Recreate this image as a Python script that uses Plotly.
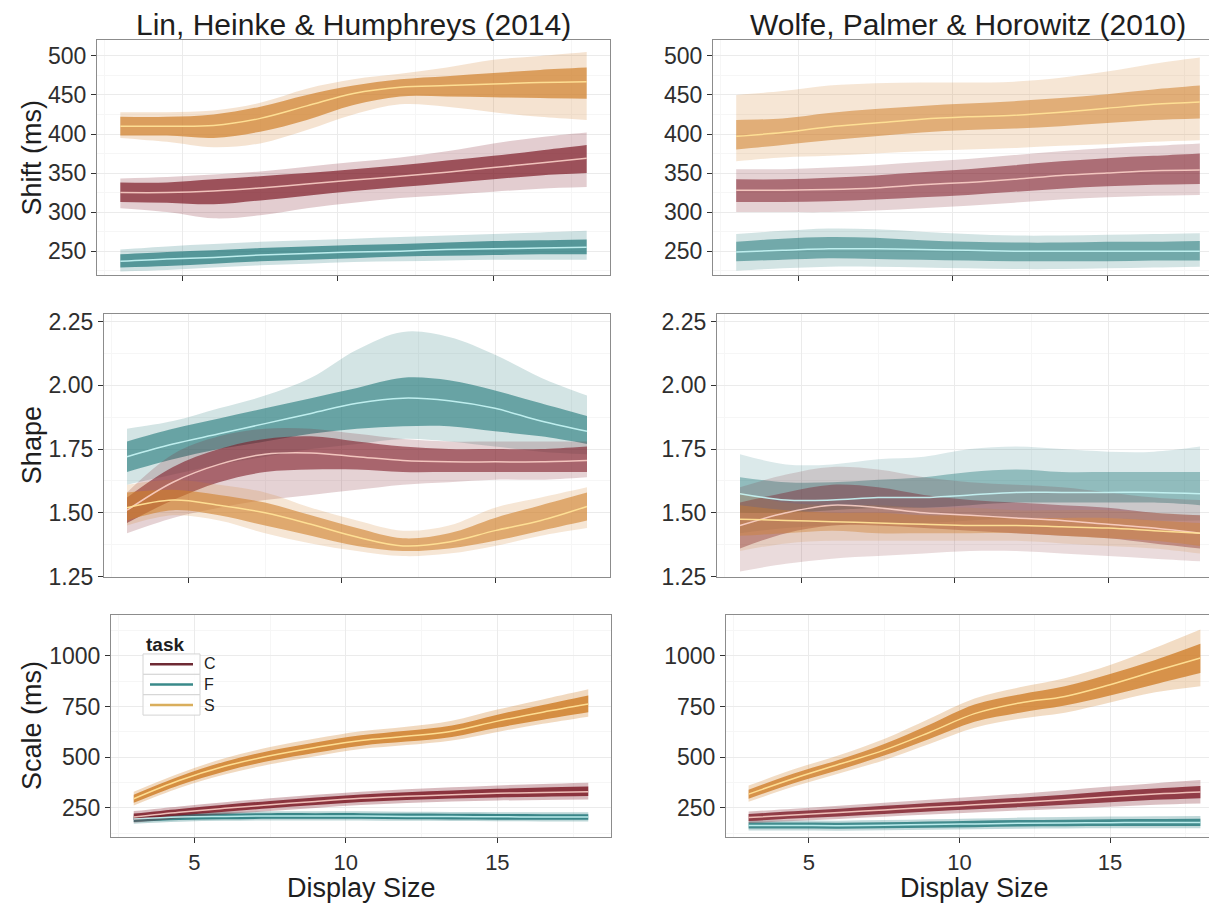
import plotly.graph_objects as go

# Display sizes at which the posterior curves are summarised
display_size = [3, 4.5, 6, 7.5, 9, 10.5, 12, 13.5, 15, 16.5, 18]
tasks = ["C", "F", "S"]

# ---- Shift (ms), Lin, Heinke & Humphreys (2014) ----
lin_shift_C = dict(
    mean=[325, 325, 327, 331, 336, 341, 346, 351, 357, 363, 369],
    core_lo=[313, 312, 310, 315, 321, 327, 332, 337, 342, 347, 350],
    core_hi=[338, 338, 342, 346, 350, 355, 360, 366, 372, 379, 386],
    env_lo=[305, 300, 292, 296, 305, 312, 318, 322, 326, 330, 332],
    env_hi=[343, 345, 348, 352, 358, 364, 370, 378, 388, 396, 402],
)
lin_shift_F = dict(
    mean=[237, 240, 242, 245, 247, 249, 250, 252, 253, 254, 255],
    core_lo=[229, 231, 234, 237, 239, 241, 243, 244, 245, 246, 246],
    core_hi=[246, 249, 251, 254, 256, 258, 259, 261, 263, 264, 265],
    env_lo=[224, 226, 229, 232, 234, 236, 237, 238, 239, 239, 239],
    env_hi=[252, 256, 259, 262, 264, 266, 268, 270, 272, 274, 276],
)
lin_shift_S = dict(
    mean=[410, 410, 411, 420, 436, 452, 460, 462, 464, 466, 467],
    core_lo=[398, 398, 395, 403, 418, 437, 448, 448, 447, 446, 445],
    core_hi=[422, 422, 425, 435, 450, 462, 470, 474, 478, 482, 485],
    env_lo=[395, 390, 383, 388, 405, 425, 438, 435, 428, 422, 418],
    env_hi=[428, 428, 430, 440, 458, 470, 477, 485, 495, 500, 505],
)

# ---- Shift (ms), Wolfe, Palmer & Horowitz (2010) ----
wolfe_shift_C = dict(
    mean=[328, 328, 329, 331, 335, 338, 342, 347, 350, 353, 354],
    core_lo=[313, 313, 314, 316, 319, 322, 326, 330, 333, 335, 336],
    core_hi=[342, 342, 344, 347, 351, 355, 360, 365, 369, 372, 375],
    env_lo=[300, 300, 300, 302, 305, 308, 312, 316, 319, 321, 322],
    env_hi=[355, 355, 357, 360, 364, 368, 373, 378, 382, 385, 388],
)
wolfe_shift_F = dict(
    mean=[249, 251, 253, 253, 252, 251, 250, 250, 250, 250, 250],
    core_lo=[237, 239, 241, 240, 239, 238, 237, 237, 237, 238, 238],
    core_hi=[262, 266, 268, 267, 264, 262, 261, 261, 262, 262, 263],
    env_lo=[225, 228, 230, 230, 229, 228, 227, 227, 228, 229, 230],
    env_hi=[272, 276, 279, 278, 275, 272, 270, 270, 271, 272, 273],
)
wolfe_shift_S = dict(
    mean=[397, 402, 409, 414, 419, 422, 424, 428, 433, 438, 441],
    core_lo=[380, 386, 392, 397, 402, 405, 407, 410, 414, 418, 420],
    core_hi=[418, 420, 427, 432, 436, 439, 442, 446, 451, 457, 462],
    env_lo=[365, 370, 372, 375, 378, 380, 382, 385, 387, 390, 392],
    env_hi=[450, 455, 462, 465, 466, 466, 467, 472, 480, 490, 498],
)

# ---- Shape, Lin, Heinke & Humphreys (2014) ----
lin_shape_C = dict(
    mean=[1.51, 1.62, 1.69, 1.73, 1.735, 1.72, 1.705, 1.70, 1.70, 1.70, 1.705],
    core_lo=[1.46, 1.55, 1.62, 1.66, 1.67, 1.67, 1.66, 1.66, 1.66, 1.66, 1.66],
    core_hi=[1.56, 1.68, 1.75, 1.79, 1.80, 1.78, 1.76, 1.75, 1.75, 1.75, 1.76],
    env_lo=[1.42, 1.48, 1.52, 1.55, 1.57, 1.59, 1.61, 1.62, 1.63, 1.63, 1.64],
    env_hi=[1.58, 1.73, 1.80, 1.83, 1.83, 1.81, 1.79, 1.78, 1.78, 1.78, 1.78],
)
lin_shape_F = dict(
    mean=[1.72, 1.77, 1.81, 1.85, 1.89, 1.93, 1.95, 1.94, 1.91, 1.86, 1.82],
    core_lo=[1.66, 1.71, 1.75, 1.78, 1.81, 1.83, 1.84, 1.84, 1.82, 1.80, 1.77],
    core_hi=[1.78, 1.83, 1.87, 1.91, 1.95, 1.99, 2.03, 2.02, 1.98, 1.93, 1.88],
    env_lo=[1.61, 1.65, 1.69, 1.72, 1.75, 1.77, 1.79, 1.78, 1.76, 1.74, 1.73],
    env_hi=[1.83, 1.86, 1.91, 1.96, 2.03, 2.14, 2.21, 2.19, 2.12, 2.03, 1.96],
)
lin_shape_S = dict(
    mean=[1.52, 1.55, 1.53, 1.50, 1.455, 1.405, 1.37, 1.385, 1.43, 1.47, 1.525],
    core_lo=[1.47, 1.51, 1.49, 1.45, 1.41, 1.37, 1.35, 1.36, 1.39, 1.43, 1.47],
    core_hi=[1.58, 1.59, 1.57, 1.54, 1.49, 1.44, 1.40, 1.42, 1.48, 1.53, 1.58],
    env_lo=[1.45, 1.49, 1.47, 1.42, 1.38, 1.35, 1.33, 1.34, 1.37, 1.41, 1.44],
    env_hi=[1.61, 1.63, 1.61, 1.58, 1.52, 1.47, 1.43, 1.45, 1.52, 1.56, 1.60],
)

# ---- Shape, Wolfe, Palmer & Horowitz (2010) ----
wolfe_shape_C = dict(
    mean=[1.45, 1.50, 1.53, 1.52, 1.50, 1.49, 1.48, 1.47, 1.455, 1.44, 1.42],
    core_lo=[1.36, 1.42, 1.45, 1.45, 1.44, 1.43, 1.42, 1.41, 1.40, 1.38, 1.36],
    core_hi=[1.54, 1.58, 1.61, 1.60, 1.57, 1.55, 1.54, 1.53, 1.52, 1.50, 1.49],
    env_lo=[1.27, 1.30, 1.32, 1.33, 1.34, 1.35, 1.35, 1.34, 1.33, 1.32, 1.31],
    env_hi=[1.60, 1.65, 1.68, 1.67, 1.64, 1.62, 1.61, 1.60, 1.58, 1.56, 1.55],
)
wolfe_shape_F = dict(
    mean=[1.575, 1.55, 1.55, 1.56, 1.56, 1.57, 1.58, 1.58, 1.58, 1.58, 1.575],
    core_lo=[1.50, 1.50, 1.51, 1.52, 1.52, 1.53, 1.54, 1.54, 1.54, 1.54, 1.53],
    core_hi=[1.64, 1.62, 1.62, 1.63, 1.64, 1.66, 1.67, 1.66, 1.66, 1.66, 1.66],
    env_lo=[1.42, 1.44, 1.45, 1.46, 1.46, 1.47, 1.48, 1.48, 1.48, 1.47, 1.47],
    env_hi=[1.73, 1.69, 1.69, 1.71, 1.72, 1.75, 1.76, 1.75, 1.74, 1.74, 1.76],
)
wolfe_shape_S = dict(
    mean=[1.475, 1.47, 1.465, 1.46, 1.455, 1.45, 1.45, 1.445, 1.44, 1.43, 1.42],
    core_lo=[1.41, 1.42, 1.43, 1.42, 1.42, 1.42, 1.42, 1.41, 1.40, 1.39, 1.37],
    core_hi=[1.53, 1.51, 1.50, 1.50, 1.49, 1.49, 1.48, 1.48, 1.48, 1.47, 1.46],
    env_lo=[1.35, 1.38, 1.39, 1.39, 1.39, 1.39, 1.39, 1.38, 1.37, 1.36, 1.34],
    env_hi=[1.58, 1.54, 1.53, 1.53, 1.52, 1.52, 1.51, 1.51, 1.51, 1.50, 1.49],
)

# ---- Scale (ms), Lin, Heinke & Humphreys (2014) ----
lin_scale_C = dict(
    mean=[205, 228, 248, 265, 282, 297, 307, 315, 322, 326, 330],
    core_lo=[190, 212, 231, 248, 264, 279, 289, 296, 301, 305, 308],
    core_hi=[222, 245, 266, 284, 301, 316, 327, 336, 344, 350, 355],
    env_lo=[178, 198, 218, 234, 250, 264, 274, 281, 286, 289, 291],
    env_hi=[234, 257, 278, 297, 315, 330, 342, 352, 361, 368, 374],
)
lin_scale_F = dict(
    mean=[195, 205, 208, 210, 210, 210, 208, 207, 206, 205, 205],
    core_lo=[180, 190, 194, 196, 196, 196, 194, 193, 192, 191, 191],
    core_hi=[208, 218, 222, 224, 224, 224, 222, 221, 220, 219, 219],
    env_lo=[172, 182, 186, 188, 188, 188, 186, 185, 184, 183, 183],
    env_hi=[216, 227, 231, 233, 233, 233, 231, 230, 229, 228, 228],
)
lin_scale_S = dict(
    mean=[295, 385, 455, 507, 548, 583, 603, 628, 678, 722, 762],
    core_lo=[275, 362, 430, 482, 522, 557, 577, 600, 645, 685, 722],
    core_hi=[315, 405, 478, 532, 573, 608, 630, 657, 710, 758, 805],
    env_lo=[262, 348, 415, 465, 505, 540, 560, 583, 625, 665, 700],
    env_hi=[330, 420, 495, 550, 592, 628, 650, 680, 735, 785, 835],
)

# ---- Scale (ms), Wolfe, Palmer & Horowitz (2010) ----
wolfe_scale_C = dict(
    mean=[202, 215, 227, 240, 253, 265, 277, 290, 305, 318, 328],
    core_lo=[185, 197, 208, 220, 232, 243, 254, 265, 278, 290, 298],
    core_hi=[220, 233, 246, 260, 274, 287, 300, 315, 332, 346, 358],
    env_lo=[175, 185, 195, 206, 217, 227, 237, 246, 256, 266, 272],
    env_hi=[232, 246, 260, 275, 290, 305, 320, 337, 355, 372, 388],
)
wolfe_scale_F = dict(
    mean=[163, 163, 162, 164, 168, 171, 174, 176, 177, 178, 178],
    core_lo=[148, 148, 147, 149, 152, 155, 158, 159, 160, 160, 160],
    core_hi=[178, 178, 177, 179, 183, 187, 190, 192, 194, 195, 196],
    env_lo=[138, 138, 137, 139, 142, 145, 147, 148, 149, 149, 149],
    env_hi=[188, 188, 187, 190, 194, 198, 202, 205, 207, 209, 210],
)
wolfe_scale_S = dict(
    mean=[318, 395, 465, 535, 622, 715, 768, 800, 858, 925, 990],
    core_lo=[295, 372, 437, 508, 590, 675, 720, 755, 805, 860, 915],
    core_hi=[340, 420, 487, 565, 660, 760, 810, 850, 910, 980, 1060],
    env_lo=[280, 355, 420, 485, 565, 645, 690, 720, 770, 820, 850],
    env_hi=[360, 440, 510, 590, 690, 790, 845, 890, 955, 1040, 1130],
)

study_titles = ["Lin, Heinke & Humphreys (2014)", "Wolfe, Palmer & Horowitz (2010)"]
row_titles = ["Shift (ms)", "Shape", "Scale (ms)"]
x_title = "Display Size"
legend_title = "task"

panels = [
    [dict(C=lin_shift_C, F=lin_shift_F, S=lin_shift_S),
     dict(C=wolfe_shift_C, F=wolfe_shift_F, S=wolfe_shift_S)],
    [dict(C=lin_shape_C, F=lin_shape_F, S=lin_shape_S),
     dict(C=wolfe_shape_C, F=wolfe_shape_F, S=wolfe_shape_S)],
    [dict(C=lin_scale_C, F=lin_scale_F, S=lin_scale_S),
     dict(C=wolfe_scale_C, F=wolfe_scale_F, S=wolfe_scale_S)],
]

# ---- styling ----
W, H = 1209, 913
FONT = "Liberation Sans, Arial, Helvetica, sans-serif"
TEXT = "#1e1e1e"
TICK_TEXT = "#2e2e2e"
TASK_RGB = {"C": (126, 28, 40), "F": (34, 120, 122), "S": (208, 128, 44)}
MEAN_COLOR = {"C": "rgba(255,214,205,0.85)", "F": "rgba(200,246,246,0.9)",
              "S": "rgba(255,226,150,0.95)"}
LEGEND_KEY = {"C": "#6e2a34", "F": "#3a8a8a", "S": "#d9ae5c"}
# (envelope alpha, core alpha) per panel: denser spaghetti reads darker
ALPHAS = [[(0.22, 0.70), (0.20, 0.55)],
          [(0.20, 0.60), (0.16, 0.40)],
          [(0.30, 0.85), (0.28, 0.80)]]
DRAW_ORDER = ["F", "C", "S"]

# panel boxes in pixels: (left, right, top, bottom)
boxes = [
    [(97, 610, 36, 275), (713, 1209, 36, 275)],
    [(104, 610, 315, 583), (717, 1209, 315, 583)],
    [(111, 611, 622, 849), (726, 1209, 622, 849)],
]
RIGHT_EDGE_FULL = 1223          # the right column runs past the page edge
y_ranges = [[220, 520], [1.25, 2.281], [105, 1203]]
y_dticks = [50, 0.25, 250]
y_formats = ["d", ".2f", "d"]


def rgba(rgb, a):
    return "rgba(%d,%d,%d,%.3f)" % (rgb[0], rgb[1], rgb[2], a)


fig = go.Figure()

for r in range(3):
    for c in range(2):
        idx = r * 2 + c + 1
        xa = "x" if idx == 1 else "x%d" % idx
        ya = "y" if idx == 1 else "y%d" % idx
        data = panels[r][c]
        env_a, core_a = ALPHAS[r][c]
        for t in DRAW_ORDER:
            d = data[t]
            rgb = TASK_RGB[t]
            for lo_key, hi_key, a in (("env_lo", "env_hi", env_a),
                                      ("core_lo", "core_hi", core_a)):
                fig.add_trace(go.Scatter(
                    x=display_size, y=d[lo_key], xaxis=xa, yaxis=ya,
                    mode="lines", line=dict(width=0, shape="spline"),
                    showlegend=False, hoverinfo="skip"))
                fig.add_trace(go.Scatter(
                    x=display_size, y=d[hi_key], xaxis=xa, yaxis=ya,
                    mode="lines", line=dict(width=0, shape="spline"),
                    fill="tonexty", fillcolor=rgba(rgb, a),
                    showlegend=False, hoverinfo="skip"))
        for t in DRAW_ORDER:
            fig.add_trace(go.Scatter(
                x=display_size, y=data[t]["mean"], xaxis=xa, yaxis=ya,
                mode="lines", line=dict(width=1.5, color=MEAN_COLOR[t], shape="spline"),
                showlegend=False, hoverinfo="skip"))

layout = dict(
    width=W, height=H, margin=dict(l=0, r=0, t=0, b=0),
    paper_bgcolor="white", plot_bgcolor="white",
    font=dict(family=FONT, color=TEXT),
    showlegend=False,
)

annotations = []
shapes = []
for r in range(3):
    for c in range(2):
        idx = r * 2 + c + 1
        left, right, top, bottom = boxes[r][c]
        if c == 1:
            xmax = 2.25 + (right - left) / (RIGHT_EDGE_FULL - left) * 16.5
        else:
            xmax = 18.75
        xkey = "xaxis" if idx == 1 else "xaxis%d" % idx
        ykey = "yaxis" if idx == 1 else "yaxis%d" % idx
        ya_ref = "y" if idx == 1 else "y%d" % idx
        xa_ref = "x" if idx == 1 else "x%d" % idx
        layout[xkey] = dict(
            domain=[left / W, right / W], anchor=ya_ref, range=[2.25, xmax],
            tick0=0, dtick=5, ticks="outside", ticklen=5, tickwidth=1,
            tickcolor="#333333", showticklabels=(r == 2),
            tickfont=dict(size=22, color=TICK_TEXT),
            showgrid=True, gridcolor="#ebebeb", gridwidth=1,
            minor=dict(dtick=2.5, tick0=0, showgrid=True, gridcolor="#f6f6f6", gridwidth=1),
            showline=True, linecolor="#8c8c8c", linewidth=1.2, mirror=True,
            zeroline=False, fixedrange=True)
        layout[ykey] = dict(
            domain=[1 - bottom / H, 1 - top / H], anchor=xa_ref, range=y_ranges[r],
            tick0=0, dtick=y_dticks[r], tickformat=y_formats[r],
            ticks="outside", ticklen=5, tickwidth=1, tickcolor="#333333",
            tickfont=dict(size=23, color=TICK_TEXT),
            showgrid=True, gridcolor="#ebebeb", gridwidth=1,
            minor=dict(dtick=y_dticks[r] / 2, tick0=0, showgrid=True,
                       gridcolor="#f6f6f6", gridwidth=1),
            showline=True, linecolor="#8c8c8c", linewidth=1.2,
            mirror=(c == 0), zeroline=False, fixedrange=True)

# study titles
for c in range(2):
    left = boxes[0][c][0]
    right = boxes[0][c][1] if c == 0 else RIGHT_EDGE_FULL
    annotations.append(dict(
        text=study_titles[c], x=(left + right) / 2 / W, y=1 - 20 / H,
        xref="paper", yref="paper", xanchor="center", yanchor="middle",
        showarrow=False, font=dict(size=30, color=TEXT)))

# row (y axis) titles
for r in range(3):
    top, bottom = boxes[r][0][2], boxes[r][0][3]
    annotations.append(dict(
        text=row_titles[r], x=32 / W, y=1 - (top + bottom) / 2 / H,
        xref="paper", yref="paper", xanchor="center", yanchor="middle",
        textangle=-90, showarrow=False, font=dict(size=27, color=TEXT)))

# x axis titles under the bottom row
for c in range(2):
    left = boxes[2][c][0]
    right = boxes[2][c][1] if c == 0 else RIGHT_EDGE_FULL
    annotations.append(dict(
        text=x_title, x=(left + right) / 2 / W, y=1 - 883 / H,
        xref="paper", yref="paper", xanchor="center", yanchor="top",
        showarrow=False, font=dict(size=27, color=TEXT)))

# legend drawn inside the bottom-left panel
LEG_FONT = 16
key_h = LEG_FONT * 1.3          # one text line per legend row
key_top = 662.0
annotations.append(dict(
    text="<b>%s</b>" % legend_title, x=144 / W, y=1 - 652 / H,
    xref="paper", yref="paper", xanchor="left", yanchor="middle",
    showarrow=False, font=dict(size=19, color=TEXT)))
for i, t in enumerate(tasks):
    y0 = key_top + i * key_h
    yc = y0 + key_h / 2
    shapes.append(dict(
        type="rect", xref="paper", yref="paper",
        x0=143 / W, x1=200 / W, y0=1 - (y0 + key_h) / H, y1=1 - y0 / H,
        line=dict(color="#d4d4d4", width=1), fillcolor="rgba(255,255,255,0.9)"))
    shapes.append(dict(
        type="line", xref="paper", yref="paper",
        x0=150 / W, x1=193 / W, y0=1 - yc / H, y1=1 - yc / H,
        line=dict(color=LEGEND_KEY[t], width=2.5)))
annotations.append(dict(
    text="<br>".join(tasks), x=202 / W, y=1 - (key_top + 1.5 * key_h) / H,
    xref="paper", yref="paper", xanchor="left", yanchor="middle", align="left",
    showarrow=False, font=dict(size=LEG_FONT, color=TEXT)))

layout["annotations"] = annotations
layout["shapes"] = shapes
fig.update_layout(**layout)
fig.write_html("out.html")
